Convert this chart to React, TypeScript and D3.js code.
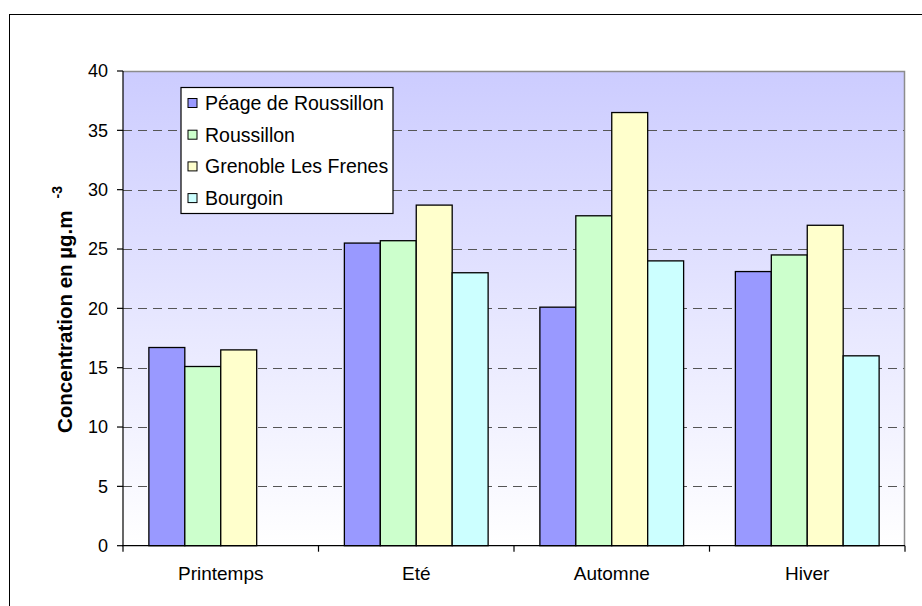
import React from "react";
import * as d3 from "d3";

const categories = ["Printemps", "Eté", "Automne", "Hiver"];
const seriesNames = ["Péage de Roussillon", "Roussillon", "Grenoble Les Frenes", "Bourgoin"];
const peage = [16.7, 25.5, 20.1, 23.1];
const roussillon = [15.1, 25.7, 27.8, 24.5];
const grenoble = [16.5, 28.7, 36.5, 27.0];
const bourgoin: (number | null)[] = [null, 23.0, 24.0, 16.0];
const yTicks = [0, 5, 10, 15, 20, 25, 30, 35, 40];
const colors = ["#9999ff", "#ccffcc", "#ffffcc", "#ccffff"];

const W = 922;
const H = 606;
const plot = { left: 123, right: 905, top: 71, bottom: 545.7 };

export default function App() {
  const series = [peage, roussillon, grenoble, bourgoin];
  const x = d3.scaleBand<string>().domain(categories).range([plot.left, plot.right]).padding(0);
  const xi = d3
    .scaleBand<string>()
    .domain(seriesNames)
    .range([0, x.bandwidth()])
    .paddingInner(0)
    .paddingOuter(0.72);
  const y = d3.scaleLinear().domain([0, 40]).range([plot.bottom, plot.top]);
  const font = "'Liberation Sans', Arial, sans-serif";
  const boundaries = categories.map((c) => x(c) as number).concat([plot.right]);

  return (
    <svg
      width={W}
      height={H}
      style={{ position: "absolute", left: 0, top: 0, display: "block", background: "#fff" }}
      fontFamily={font}
    >
      <defs>
        <linearGradient id="bg" x1="0" y1="0" x2="0" y2="1">
          <stop offset="0" stopColor="#ccccff" />
          <stop offset="1" stopColor="#ffffff" />
        </linearGradient>
      </defs>
      {/* outer frame */}
      <rect x={9.5} y={14.5} width={930} height={620} fill="#fff" stroke="#000" strokeWidth={1} />
      {/* plot area */}
      <rect
        x={plot.left}
        y={plot.top}
        width={plot.right - plot.left}
        height={plot.bottom - plot.top}
        fill="url(#bg)"
      />
      <path
        d={`M${plot.left},${plot.top + 0.5}H${plot.right - 0.5}V${plot.bottom}`}
        fill="none"
        stroke="#8c8c8c"
        strokeWidth={1.5}
      />
      {/* gridlines */}
      {yTicks
        .filter((t) => t > 0 && t < 40)
        .map((t) => (
          <line
            key={t}
            x1={plot.left}
            x2={plot.right - 1}
            y1={Math.round(y(t)) + 0.5}
            y2={Math.round(y(t)) + 0.5}
            stroke="#555"
            strokeWidth={1.2}
            strokeDasharray="9,6"
          />
        ))}
      {/* bars */}
      {series.map((vals, si) =>
        vals.map((v, ci) =>
          v == null ? null : (
            <rect
              key={`${si}-${ci}`}
              x={(x(categories[ci]) as number) + (xi(seriesNames[si]) as number)}
              y={y(v)}
              width={xi.bandwidth()}
              height={y(0) - y(v)}
              fill={colors[si]}
              stroke="#000"
              strokeWidth={1.3}
            />
          )
        )
      )}
      {/* axes */}
      <line x1={plot.left} x2={plot.left} y1={plot.top} y2={plot.bottom} stroke="#000" strokeWidth={1.2} />
      <line x1={plot.left - 1} x2={plot.right} y1={plot.bottom} y2={plot.bottom} stroke="#000" strokeWidth={1.2} />
      {yTicks.map((t) => (
        <g key={t}>
          <line x1={plot.left - 6} x2={plot.left} y1={y(t)} y2={y(t)} stroke="#000" strokeWidth={1.2} />
          <text x={plot.left - 15} y={y(t)} dy="0.35em" textAnchor="end" fontSize={18}>
            {t}
          </text>
        </g>
      ))}
      {boundaries.map((b, i) => (
        <line key={i} x1={b} x2={b} y1={plot.bottom} y2={plot.bottom + 6} stroke="#000" strokeWidth={1.2} />
      ))}
      {categories.map((c) => (
        <text
          key={c}
          x={(x(c) as number) + x.bandwidth() / 2}
          y={580}
          textAnchor="middle"
          fontSize={19}
        >
          {c}
        </text>
      ))}
      {/* y title */}
      <text
        transform={`translate(72,433) rotate(-90)`}
        textAnchor="start"
        fontSize={20.5}
        fontWeight="bold"
      >
        Concentration en µg.m
        <tspan dx={12} dy={-10} fontSize={14}>
          -3
        </tspan>
      </text>
      {/* legend */}
      <rect x={181} y={87.5} width={212} height={126} fill="#fff" stroke="#000" strokeWidth={1.2} />
      {seriesNames.map((n, i) => (
        <g key={n} transform={`translate(188,${103 + i * 31.7})`}>
          <rect x={0} y={-4.5} width={9} height={9} fill={colors[i]} stroke="#000" strokeWidth={1} />
          <text x={17} y={0} dy="0.36em" fontSize={19.5}>
            {n}
          </text>
        </g>
      ))}
    </svg>
  );
}
